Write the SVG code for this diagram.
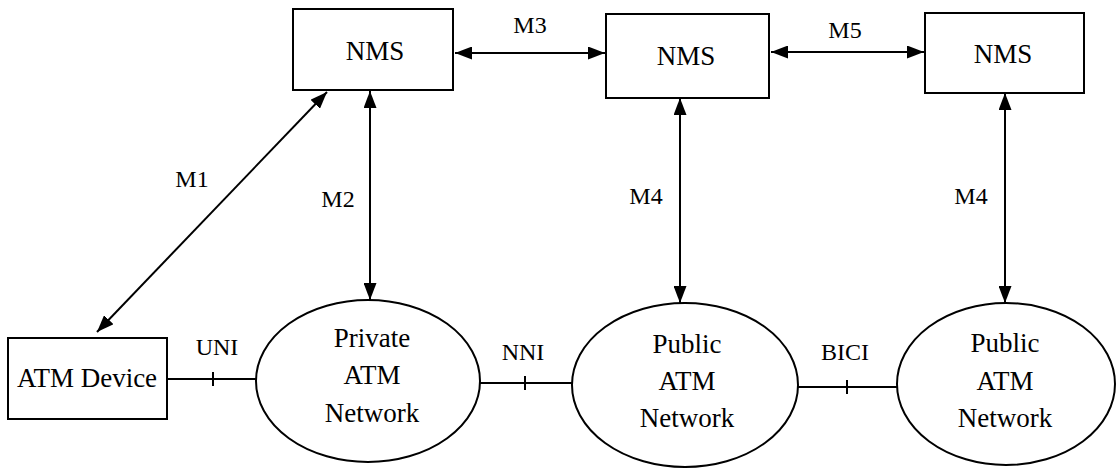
<svg xmlns="http://www.w3.org/2000/svg" width="1119" height="472" viewBox="0 0 1119 472">
<style>
.box{fill:#fff;stroke:#000;stroke-width:2}
.ell{fill:#fff;stroke:#000;stroke-width:2}
.ln{stroke:#000;stroke-width:2;fill:none}
text{font-family:'Liberation Serif','DejaVu Serif','Times New Roman',serif;fill:#000;text-anchor:middle}
.t{font-size:27px}
.lb{font-size:24px}
</style>
<defs>
<marker id="ah" viewBox="0 0 17 13" refX="17" refY="6.5" markerWidth="17" markerHeight="13" markerUnits="userSpaceOnUse" orient="auto-start-reverse">
<path d="M0,0 L17,6.5 L0,13 Z" fill="#000"/>
</marker>
</defs>
<g id="connectors">
<line class="ln" x1="97" y1="332" x2="327" y2="92" marker-start="url(#ah)" marker-end="url(#ah)"/>
<line class="ln" x1="370" y1="91" x2="370" y2="300" marker-start="url(#ah)" marker-end="url(#ah)"/>
<line class="ln" x1="680" y1="98" x2="680" y2="303" marker-start="url(#ah)" marker-end="url(#ah)"/>
<line class="ln" x1="1005" y1="93" x2="1005" y2="303" marker-start="url(#ah)" marker-end="url(#ah)"/>
<line class="ln" x1="455" y1="53" x2="605" y2="53" marker-start="url(#ah)" marker-end="url(#ah)"/>
<line class="ln" x1="771" y1="52" x2="924" y2="52" marker-start="url(#ah)" marker-end="url(#ah)"/>
<line class="ln" x1="167" y1="379" x2="256" y2="379"/>
<line class="ln" x1="213" y1="372" x2="213" y2="386"/>
<line class="ln" x1="479" y1="383" x2="572" y2="383"/>
<line class="ln" x1="525" y1="376" x2="525" y2="390"/>
<line class="ln" x1="797" y1="387" x2="897" y2="387"/>
<line class="ln" x1="847" y1="380" x2="847" y2="394"/>
<text class="lb" x="192" y="187">M1</text>
<text class="lb" x="338" y="207">M2</text>
<text class="lb" x="530" y="33">M3</text>
<text class="lb" x="646" y="204">M4</text>
<text class="lb" x="971" y="204">M4</text>
<text class="lb" x="845" y="38">M5</text>
<text class="lb" x="217" y="355">UNI</text>
<text class="lb" x="523" y="360">NNI</text>
<text class="lb" x="845" y="360">BICI</text>
</g>
<g id="nms1">
<rect class="box" x="293" y="9" width="160" height="81"/>
<text class="t" x="375" y="60">NMS</text>
</g>
<g id="nms2">
<rect class="box" x="606" y="14" width="163" height="84"/>
<text class="t" x="686" y="65">NMS</text>
</g>
<g id="nms3">
<rect class="box" x="925" y="13" width="159" height="80"/>
<text class="t" x="1003" y="63">NMS</text>
</g>
<g id="atm-device">
<rect class="box" x="8" y="338" width="159" height="81"/>
<text class="t" x="87" y="387">ATM Device</text>
</g>
<g id="private-net">
<ellipse class="ell" cx="368" cy="381" rx="112" ry="81"/>
<text class="t" x="372" y="347">Private</text>
<text class="t" x="372" y="384">ATM</text>
<text class="t" x="372" y="422">Network</text>
</g>
<g id="public-net1">
<ellipse class="ell" cx="685" cy="385" rx="113" ry="82"/>
<text class="t" x="687" y="353">Public</text>
<text class="t" x="687" y="390">ATM</text>
<text class="t" x="687" y="427">Network</text>
</g>
<g id="public-net2">
<ellipse class="ell" cx="1006" cy="384" rx="109" ry="81"/>
<text class="t" x="1005" y="352">Public</text>
<text class="t" x="1005" y="390">ATM</text>
<text class="t" x="1005" y="427">Network</text>
</g>
</svg>
